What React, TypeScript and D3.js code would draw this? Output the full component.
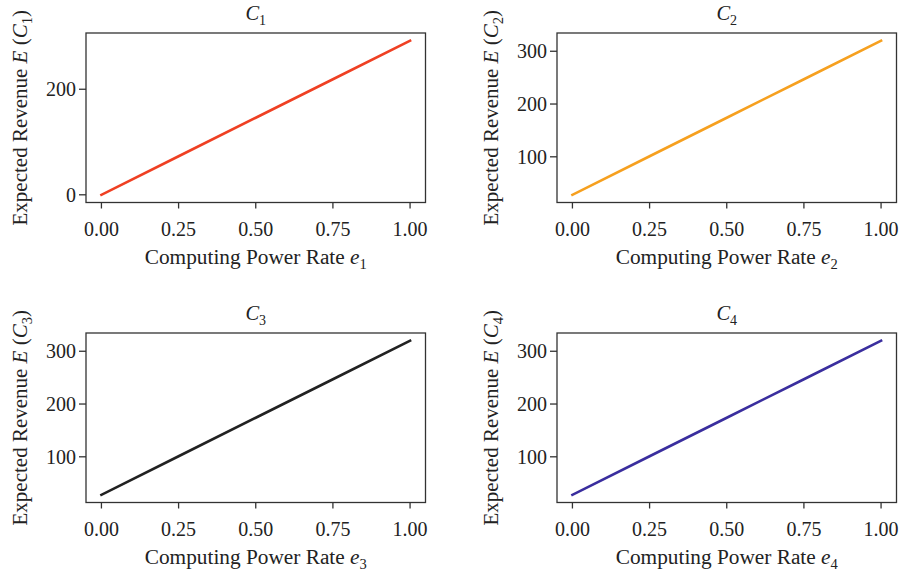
import React, { useEffect, useRef } from 'react';
import * as d3 from 'd3';

// computing power rate (x) and expected revenue per player
const rates = [0, 0.25, 0.5, 0.75, 1];
const revenueC1 = [0, 73, 146, 219, 292];
const revenueC2 = [28, 101, 174, 247, 320];
const revenueC3 = [28, 101, 174, 247, 320];
const revenueC4 = [28, 101, 174, 247, 320];

const xTicks = [0, 0.25, 0.5, 0.75, 1];
const yTicksC1 = [0, 200];
const yTicksOther = [100, 200, 300];

const colors = ['#ef4023', '#f6a01f', '#222222', '#3a2e9e'];

const FONT = '"Liberation Serif", "Times New Roman", serif';

export default function App() {
  const svgRef = useRef<SVGSVGElement>(null);

  useEffect(() => {
    const svg = d3.select(svgRef.current);
    svg.selectAll('*').remove();

    const width = 901;
    const height = 576;
    svg.attr('width', width).attr('height', height);

    const series = [revenueC1, revenueC2, revenueC3, revenueC4];
    const yTicksAll = [yTicksC1, yTicksOther, yTicksOther, yTicksOther];

    const cols = [86, 557];
    const rows = [33, 333];
    const pw = 339.5;
    const ph = 169.5;

    series.forEach((vals, i) => {
      const left = cols[i % 2];
      const top = rows[Math.floor(i / 2)];
      const n = i + 1;

      const x = d3.scaleLinear().domain([-0.05, 1.05]).range([left, left + pw]);
      const lo = d3.min(vals)!;
      const hi = d3.max(vals)!;
      const pad = (hi - lo) * 0.05;
      const y = d3.scaleLinear().domain([lo - pad, hi + pad]).range([top + ph, top]);

      const g = svg.append('g').style('font-family', FONT).attr('fill', '#222');

      // line
      const line = d3.line<number>()
        .x((_, k) => x(rates[k]))
        .y(d => y(d));
      g.append('path')
        .datum(vals)
        .attr('d', line)
        .attr('fill', 'none')
        .attr('stroke', colors[i])
        .attr('stroke-width', 2.6)
        .attr('stroke-linecap', 'square');

      // frame
      g.append('rect')
        .attr('x', left).attr('y', top)
        .attr('width', pw).attr('height', ph)
        .attr('fill', 'none')
        .attr('stroke', '#333')
        .attr('stroke-width', 1.3);

      // x ticks
      xTicks.forEach(t => {
        g.append('line')
          .attr('x1', x(t)).attr('x2', x(t))
          .attr('y1', top + ph).attr('y2', top + ph + 6)
          .attr('stroke', '#333').attr('stroke-width', 1.3);
        g.append('text')
          .attr('x', x(t)).attr('y', top + ph + 33)
          .attr('text-anchor', 'middle')
          .style('font-size', '20px')
          .text(d3.format('.2f')(t));
      });

      // y ticks
      yTicksAll[i].forEach(t => {
        g.append('line')
          .attr('x1', left - 7).attr('x2', left)
          .attr('y1', y(t)).attr('y2', y(t))
          .attr('stroke', '#333').attr('stroke-width', 1.3);
        g.append('text')
          .attr('x', left - 10).attr('y', y(t))
          .attr('dy', '0.35em')
          .attr('text-anchor', 'end')
          .style('font-size', '20px')
          .text(t);
      });

      // title
      const title = g.append('text')
        .attr('x', left + pw / 2).attr('y', top - 13)
        .attr('text-anchor', 'middle')
        .style('font-size', '20.5px');
      title.append('tspan').style('font-style', 'italic').text('C');
      title.append('tspan').attr('dy', 5).style('font-size', '14px').text(n);

      // x label
      const xl = g.append('text')
        .attr('x', left + pw / 2).attr('y', top + ph + 61)
        .attr('text-anchor', 'middle')
        .style('font-size', '21.3px');
      xl.append('tspan').text('Computing Power Rate ');
      xl.append('tspan').style('font-style', 'italic').text('e');
      xl.append('tspan').attr('dy', 5).style('font-size', '14.5px').text(n);

      // y label
      const yl = g.append('text')
        .attr('transform', `translate(${left - 59},${top + ph / 2}) rotate(-90)`)
        .attr('text-anchor', 'middle')
        .style('font-size', '21px');
      yl.append('tspan').text('Expected Revenue ');
      yl.append('tspan').style('font-style', 'italic').text('E');
      yl.append('tspan').text(' (');
      yl.append('tspan').style('font-style', 'italic').text('C');
      yl.append('tspan').attr('dy', 5).style('font-size', '14.5px').text(n);
      yl.append('tspan').attr('dy', -5).text(')');
    });
  }, []);

  return <svg ref={svgRef} style={{ position: 'absolute', left: 0, top: 0 }}></svg>;
}
